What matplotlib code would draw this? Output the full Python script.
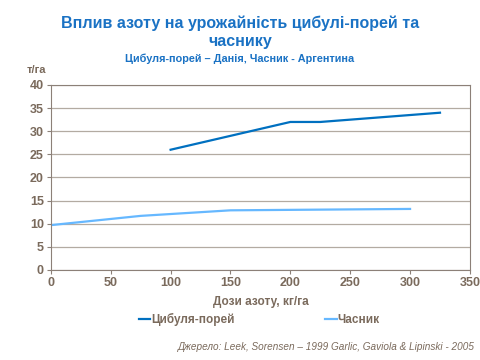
import matplotlib
matplotlib.use("Agg")
import matplotlib.pyplot as plt

plt.rcParams['font.family'] = ['Liberation Sans', 'DejaVu Sans']

leek_x = [100, 200, 225, 325]
leek_y = [26, 32, 32, 34]
garlic_x = [0, 75, 150, 200, 300]
garlic_y = [9.7, 11.7, 12.9, 13.0, 13.2]

text_col = '#7a6a5c'
grid_col = '#b3aba2'

fig = plt.figure(figsize=(4.8, 3.6), dpi=100)
ax = fig.add_axes([0.106, 0.25, 0.873, 0.514])

ax.plot(leek_x, leek_y, color='#0070c0', lw=1.6, label='Цибуля-порей')
ax.plot(garlic_x, garlic_y, color='#66b8ff', lw=1.6, label='Часник')

ax.set_xlim(0, 350)
ax.set_ylim(0, 40)
ax.set_xticks(range(0, 351, 50))
ax.set_yticks(range(0, 41, 5))
ax.yaxis.grid(True, color=grid_col, lw=0.9)
ax.set_axisbelow(True)
for s in ax.spines.values():
    s.set_color('#8c8078')
ax.tick_params(colors='#8c8078', labelcolor=text_col, labelsize=9, length=3, direction='out', pad=2)
for lab in ax.get_xticklabels() + ax.get_yticklabels():
    lab.set_fontweight('bold')

ax.set_xlabel('Дози азоту, кг/га', color=text_col, fontsize=8.5, fontweight='bold', labelpad=5)

fig.text(0.5, 0.91, 'Вплив азоту на урожайність цибулі-порей та\nчаснику', ha='center', va='center',
         color='#1a72c4', fontsize=11.5, fontweight='bold', linespacing=1.2)
fig.text(0.5, 0.838, 'Цибуля-порей – Данія, Часник - Аргентина', ha='center', va='center',
         color='#1a72c4', fontsize=7.8, fontweight='bold')
fig.text(0.055, 0.805, 'т/га', ha='left', va='center', color=text_col, fontsize=8, fontweight='bold')

fig.legend(loc='center', bbox_to_anchor=(0.54, 0.112), ncol=2, frameon=False,
           handlelength=1.0, handletextpad=0.1, columnspacing=7.6,
           prop={'weight': 'bold', 'size': 8.5}, labelcolor=text_col)

fig.text(0.99, 0.036, 'Джерело: Leek, Sorensen – 1999 Garlic, Gaviola & Lipinski - 2005',
         ha='right', va='center', color=text_col, fontsize=7.2, style='italic')

fig.savefig('out.png', dpi=100)
